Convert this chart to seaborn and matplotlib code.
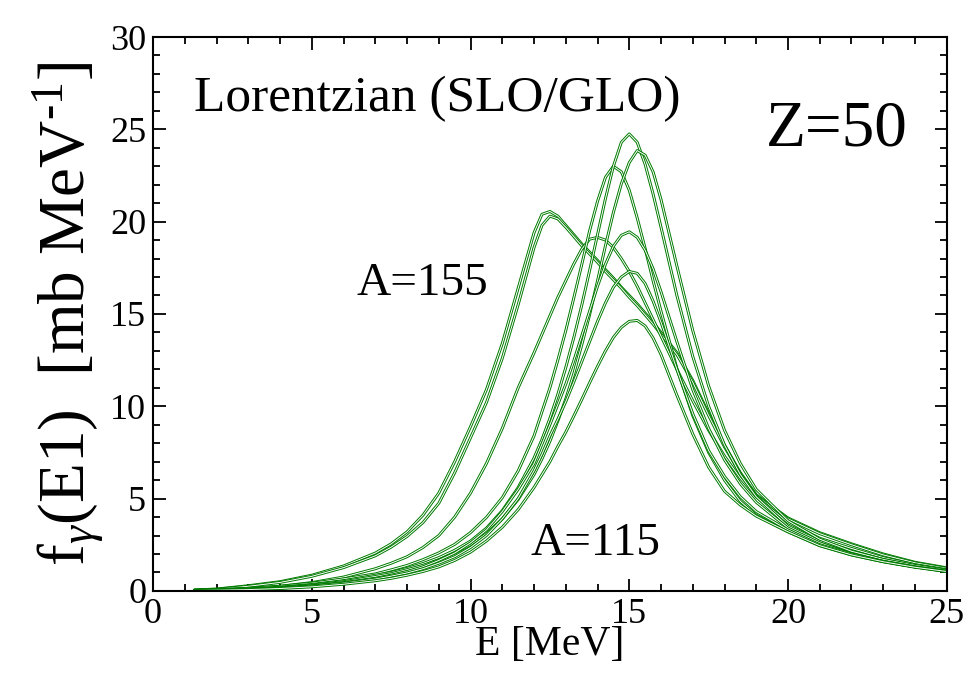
import matplotlib
matplotlib.use("Agg")
import matplotlib.pyplot as plt
from matplotlib.ticker import MultipleLocator
import seaborn as sns
import pandas as pd

# ---- data ----
energy = [1.3, 2, 3, 4, 5, 6, 7, 7.5, 8, 8.5, 9, 9.5, 10, 10.5, 11, 11.5, 12,
          12.25, 12.5, 12.75, 13, 13.25, 13.5, 13.75, 14, 14.25, 14.5, 14.75, 15,
          15.25, 15.5, 15.75, 16, 16.5, 17, 17.5, 18, 18.5, 19, 20, 21, 22, 23, 24, 25]

f_a155a = [0.05, 0.1, 0.28, 0.5, 0.85, 1.35, 2.05,
           2.55, 3.2, 4.1, 5.3, 7.0, 8.9, 10.9, 13.4, 16.4, 19.4,
           20.4, 20.55, 20.3, 19.8, 19.3, 18.8, 18.35, 17.9, 17.4, 16.95, 16.45, 16.0, 15.55, 15.05, 14.55, 14.0,
           12.9, 11.4, 9.6, 7.9, 6.4, 5.2,
           3.95, 3.15, 2.55, 2.0, 1.55, 1.25]
f_a155b = [0.045, 0.09, 0.25, 0.46, 0.79, 1.26, 1.9,
           2.37, 2.95, 3.7, 4.75, 6.4, 8.3, 10.2, 12.6, 15.5, 18.6,
           19.8, 20.3, 20.15, 19.7, 19.2, 18.7, 18.25, 17.8, 17.3, 16.85, 16.4, 15.9, 15.45, 14.95, 14.45, 13.9,
           12.8, 11.3, 9.5, 7.8, 6.35, 5.15,
           3.9, 3.1, 2.5, 1.95, 1.52, 1.22]
f_c9 = [0.03, 0.06, 0.13, 0.25, 0.45, 0.75, 1.2,
        1.5, 1.85, 2.35, 3.0, 4.0, 5.3, 6.9, 8.8, 11.0, 12.9,
        13.9, 14.9, 15.9, 16.8, 17.7, 18.5, 19.05, 19.15, 19.0, 18.6, 18.0, 17.3, 16.5, 15.6, 14.7, 13.8,
        12.0, 10.3, 8.7, 7.3, 6.1, 5.1,
        3.7, 2.85, 2.3, 1.8, 1.42, 1.15]
f_c3 = [0.035, 0.07, 0.14, 0.25, 0.42, 0.65, 0.92,
        1.14, 1.38, 1.69, 2.06, 2.52, 3.16, 3.98, 5.05, 6.5, 8.4,
        9.7, 11.0, 12.5, 14.1, 15.85, 17.65, 19.5, 21.1, 22.4, 23.0, 22.7, 21.7, 20.2, 18.55, 16.8, 15.15,
        12.05, 9.5, 7.5, 6.0, 4.85, 4.1,
        3.2, 2.45, 1.95, 1.58, 1.3, 1.08]
f_c4 = [0.02, 0.05, 0.1, 0.2, 0.35, 0.55, 0.85,
        1.0, 1.22, 1.48, 1.8, 2.2, 2.7, 3.4, 4.35, 5.6, 7.2,
        8.2, 9.35, 10.65, 12.1, 13.7, 15.45, 17.35, 19.3, 21.25, 23.0, 24.3, 24.75, 24.3, 23.1, 21.5, 19.7,
        16.0, 12.7, 10.0, 7.9, 6.3, 5.1,
        3.5, 2.7, 2.15, 1.7, 1.35, 1.05]
f_c5 = [0.02, 0.04, 0.09, 0.18, 0.32, 0.5, 0.78,
        0.93, 1.15, 1.38, 1.68, 2.05, 2.5, 3.1, 3.9, 4.95, 6.3,
        7.15, 8.1, 9.2, 10.4, 11.75, 13.3, 14.95, 16.8, 18.7, 20.5, 22.05, 23.2, 23.85, 23.6, 22.7, 21.2,
        17.6, 14.1, 11.1, 8.7, 6.9, 5.5,
        3.8, 2.8, 2.15, 1.7, 1.38, 1.12]
f_c6 = [0.02, 0.04, 0.08, 0.16, 0.28, 0.45, 0.68,
        0.85, 1.05, 1.3, 1.65, 2.05, 2.6, 3.3, 4.3, 5.5, 6.9,
        7.95, 9.0, 10.1, 11.2, 12.45, 13.8, 15.15, 16.5, 17.7, 18.67, 19.26, 19.45, 19.15, 18.45, 17.45, 16.2,
        13.5, 10.9, 8.8, 7.1, 5.8, 4.8,
        3.4, 2.6, 2.0, 1.6, 1.3, 1.07]
f_c7 = [0.02, 0.04, 0.08, 0.15, 0.26, 0.42, 0.64,
        0.8, 0.97, 1.2, 1.5, 1.85, 2.35, 3.0, 3.9, 5.0, 6.5,
        7.4, 8.4, 9.3, 10.25, 11.3, 12.4, 13.5, 14.6, 15.6, 16.45, 17.0, 17.3, 17.2, 16.65, 15.7, 14.55,
        12.0, 9.6, 7.6, 6.2, 5.1, 4.3,
        3.3, 2.5, 2.0, 1.6, 1.3, 1.05]
f_a115 = [0.02, 0.035, 0.07, 0.13, 0.22, 0.36, 0.55,
          0.68, 0.85, 1.05, 1.3, 1.65, 2.1, 2.7, 3.45, 4.4, 5.6,
          6.3, 7.0, 7.83, 8.6, 9.46, 10.35, 11.27, 12.16, 13.0, 13.73, 14.27, 14.6, 14.65, 14.35, 13.7, 12.8,
          10.6, 8.5, 6.7, 5.4, 4.65, 4.05,
          3.2, 2.45, 1.95, 1.58, 1.28, 1.05]

curves = [f_a155a, f_a155b, f_c9, f_c3, f_c4, f_c5, f_c6, f_c7, f_a115]

x_ticks = [0, 5, 10, 15, 20, 25]
y_ticks = [0, 5, 10, 15, 20, 25, 30]

# ---- style ----
sns.set_theme(style="ticks")
plt.rcParams["font.family"] = ["Liberation Serif", "DejaVu Serif"]
plt.rcParams["mathtext.fontset"] = "custom"
plt.rcParams["mathtext.rm"] = "Liberation Serif"
plt.rcParams["mathtext.it"] = "Liberation Serif:italic"
plt.rcParams["text.color"] = "black"
plt.rcParams["axes.labelcolor"] = "black"
plt.rcParams["xtick.color"] = "black"
plt.rcParams["ytick.color"] = "black"

fig = plt.figure(figsize=(9.69, 6.73), dpi=100)
ax = fig.add_axes([0.158, 0.122, 0.819, 0.823])

green = "#007a00"
for i, vals in enumerate(curves):
    df = pd.DataFrame({"E": energy, "f": vals})
    sns.lineplot(data=df, x="E", y="f", ax=ax, color=green, lw=2.1,
                 sort=False, estimator=None)
    sns.lineplot(data=df, x="E", y="f", ax=ax, color="white", lw=0.7,
                 sort=False, estimator=None)

ax.set_xlim(0, 25)
ax.set_ylim(0, 30)
ax.set_xticks(x_ticks)
ax.set_yticks(y_ticks)
ax.xaxis.set_minor_locator(MultipleLocator(1))
ax.yaxis.set_minor_locator(MultipleLocator(1))
ax.tick_params(which="both", direction="in", top=True, right=True,
               width=1.3, colors="black", labelsize=26)
ax.tick_params(which="major", length=9, pad=5)
ax.tick_params(which="minor", length=5)
for s in ax.spines.values():
    s.set_linewidth(1.5)
    s.set_color("black")

ax.set_xlabel("E [MeV]", fontsize=30, labelpad=-4)
ax.set_ylabel("f$_{\\gamma}$(E1)  [mb MeV$^{\u2010\\mathrm{1}}$]", fontsize=47, labelpad=2)

ax.text(1.3, 26.0, "Lorentzian (SLO/GLO)", fontsize=37, va="baseline", ha="left")
ax.text(19.3, 24.1, "Z=50", fontsize=47, va="baseline", ha="left")
ax.text(6.4, 16.0, "A=155", fontsize=34, va="baseline", ha="left")
ax.text(11.9, 1.95, "A=115", fontsize=34, va="baseline", ha="left")

fig.savefig("out.png", dpi=100)
